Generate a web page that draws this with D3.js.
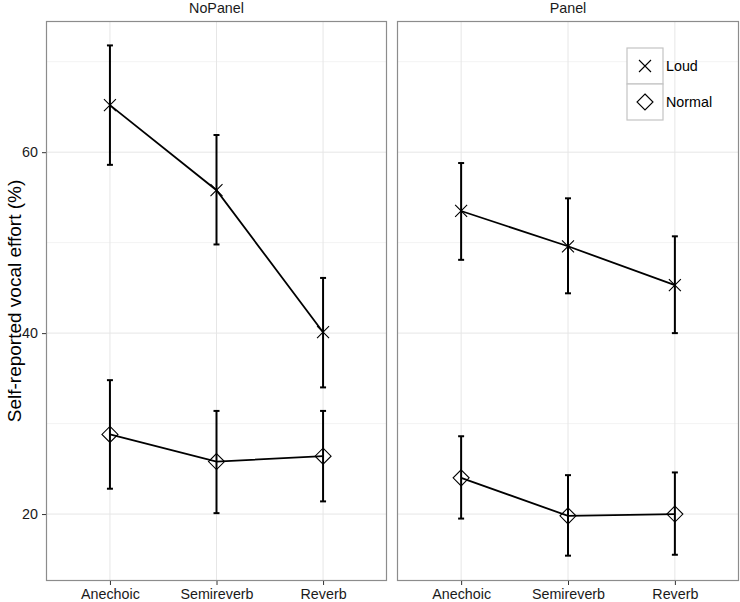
<!DOCTYPE html>
<html>
<head>
<meta charset="utf-8">
<script src="https://cdn.jsdelivr.net/npm/d3@7"></script>
<style>
  html, body { margin: 0; padding: 0; background: #fff; }
  svg { display: block; font-family: "Liberation Sans", Arial, sans-serif; }
</style>
</head>
<body>
<svg id="chart" width="740" height="602"></svg>
<script>
// ---- data ----
const panels = ["NoPanel", "Panel"];
const conditions = ["Anechoic", "Semireverb", "Reverb"];
const seriesNames = ["Loud", "Normal"];
const yTicks = [20, 40, 60];
const yMinorTicks = [30, 50, 70];

// NoPanel
const noPanelLoudMean  = [65.2, 55.8, 40.1];
const noPanelLoudLow   = [58.6, 49.8, 34.0];
const noPanelLoudHigh  = [71.8, 61.9, 46.1];
const noPanelNormalMean = [28.8, 25.8, 26.4];
const noPanelNormalLow  = [22.8, 20.1, 21.4];
const noPanelNormalHigh = [34.8, 31.4, 31.4];
// Panel
const panelLoudMean  = [53.5, 49.6, 45.3];
const panelLoudLow   = [48.1, 44.4, 40.0];
const panelLoudHigh  = [58.8, 54.9, 50.7];
const panelNormalMean = [24.0, 19.8, 20.0];
const panelNormalLow  = [19.5, 15.4, 15.5];
const panelNormalHigh = [28.6, 24.3, 24.6];

function rows(mean, low, high) {
  return conditions.map((c, i) => ({ cond: c, mean: mean[i], low: low[i], high: high[i] }));
}
const data = {
  NoPanel: {
    Loud: rows(noPanelLoudMean, noPanelLoudLow, noPanelLoudHigh),
    Normal: rows(noPanelNormalMean, noPanelNormalLow, noPanelNormalHigh)
  },
  Panel: {
    Loud: rows(panelLoudMean, panelLoudLow, panelLoudHigh),
    Normal: rows(panelNormalMean, panelNormalLow, panelNormalHigh)
  }
};

// ---- layout ----
const svg = d3.select("#chart");
const panelTop = 21, panelBottom = 581;
const panelX = { NoPanel: [46, 387], Panel: [397, 739] };
const textSize = "14.3px";

const y = d3.scaleLinear().domain([12.6, 74.5]).range([panelBottom, panelTop]);

const crossPath = (s) => `M${-s},${-s}L${s},${s}M${-s},${s}L${s},${-s}`;
const diamondPath = (s) => `M0,${-s}L${s},0L0,${s}L${-s},0Z`;
const shapeFor = { Loud: crossPath(6), Normal: diamondPath(8) };

panels.forEach(p => {
  const [x0, x1] = panelX[p];
  const x = d3.scalePoint().domain(conditions).range([x0, x1]).padding(0.6);
  const g = svg.append("g");

  g.append("rect").attr("x", x0).attr("y", panelTop)
    .attr("width", x1 - x0).attr("height", panelBottom - panelTop)
    .attr("fill", "#fff");

  // minor grid
  g.selectAll(".ymin").data(yMinorTicks).join("line")
    .attr("x1", x0).attr("x2", x1)
    .attr("y1", d => y(d)).attr("y2", d => y(d))
    .attr("stroke", "#f3f3f3").attr("stroke-width", 1);
  // major grid
  g.selectAll(".ymaj").data(yTicks).join("line")
    .attr("x1", x0).attr("x2", x1)
    .attr("y1", d => y(d)).attr("y2", d => y(d))
    .attr("stroke", "#e6e6e6").attr("stroke-width", 1);
  g.selectAll(".xmaj").data(conditions).join("line")
    .attr("x1", d => x(d)).attr("x2", d => x(d))
    .attr("y1", panelTop).attr("y2", panelBottom)
    .attr("stroke", "#e6e6e6").attr("stroke-width", 1);

  seriesNames.forEach(s => {
    const rs = data[p][s];
    const line = d3.line().x(d => x(d.cond)).y(d => y(d.mean));
    g.append("path").datum(rs).attr("d", line)
      .attr("fill", "none").attr("stroke", "#000").attr("stroke-width", 1.8);

    const eb = g.selectAll(null).data(rs).join("g");
    eb.append("line")
      .attr("x1", d => x(d.cond)).attr("x2", d => x(d.cond))
      .attr("y1", d => y(d.low)).attr("y2", d => y(d.high))
      .attr("stroke", "#000").attr("stroke-width", 2);
    eb.append("line")
      .attr("x1", d => x(d.cond) - 3).attr("x2", d => x(d.cond) + 3)
      .attr("y1", d => y(d.low)).attr("y2", d => y(d.low))
      .attr("stroke", "#000").attr("stroke-width", 2);
    eb.append("line")
      .attr("x1", d => x(d.cond) - 3).attr("x2", d => x(d.cond) + 3)
      .attr("y1", d => y(d.high)).attr("y2", d => y(d.high))
      .attr("stroke", "#000").attr("stroke-width", 2);

    g.selectAll(null).data(rs).join("path")
      .attr("transform", d => `translate(${x(d.cond)},${y(d.mean)})`)
      .attr("d", shapeFor[s])
      .attr("fill", "none").attr("stroke", "#000").attr("stroke-width", 1.1);
  });

  g.append("rect").attr("x", x0 + 0.5).attr("y", panelTop + 0.5)
    .attr("width", x1 - x0 - 1).attr("height", panelBottom - panelTop - 1)
    .attr("fill", "none").attr("stroke", "#8c8c8c").attr("stroke-width", 1.2);

  const xa = g.append("g").attr("transform", `translate(0,${panelBottom})`)
    .call(d3.axisBottom(x).tickSize(4).tickPadding(3.5));
  xa.select(".domain").remove();
  xa.selectAll(".tick line").attr("stroke", "#333");
  xa.selectAll(".tick text").attr("fill", "#1a1a1a")
    .style("font-size", textSize).attr("dy", "0.71em");

  g.append("text").attr("x", (x0 + x1) / 2).attr("y", 13)
    .attr("text-anchor", "middle").attr("fill", "#1a1a1a")
    .style("font-size", textSize).text(p);
});

const ya = svg.append("g").attr("transform", `translate(${panelX.NoPanel[0]},0)`)
  .call(d3.axisLeft(y).tickValues(yTicks).tickSize(4).tickPadding(4));
ya.select(".domain").remove();
ya.selectAll(".tick line").attr("stroke", "#333");
ya.selectAll(".tick text").attr("fill", "#1a1a1a").style("font-size", textSize);

svg.append("text")
  .attr("transform", `translate(14,${(panelTop + panelBottom) / 2}) rotate(-90)`)
  .attr("text-anchor", "middle").attr("dominant-baseline", "central")
  .attr("fill", "#000").style("font-size", "19px")
  .text("Self-reported vocal effort (%)");

const legX = 627, legY = 48, keySize = 36;
const leg = svg.append("g");
seriesNames.forEach((s, i) => {
  const ky = legY + i * keySize;
  leg.append("rect").attr("x", legX).attr("y", ky)
    .attr("width", keySize).attr("height", keySize)
    .attr("fill", "#fff").attr("stroke", "#c4c4c4").attr("stroke-width", 1.2);
  leg.append("path")
    .attr("transform", `translate(${legX + keySize / 2},${ky + keySize / 2})`)
    .attr("d", shapeFor[s])
    .attr("fill", "none").attr("stroke", "#000").attr("stroke-width", 1.1);
  leg.append("text").attr("x", legX + keySize + 3).attr("y", ky + keySize / 2)
    .attr("dominant-baseline", "central").attr("fill", "#000")
    .style("font-size", textSize).text(s);
});
</script>
</body>
</html>
